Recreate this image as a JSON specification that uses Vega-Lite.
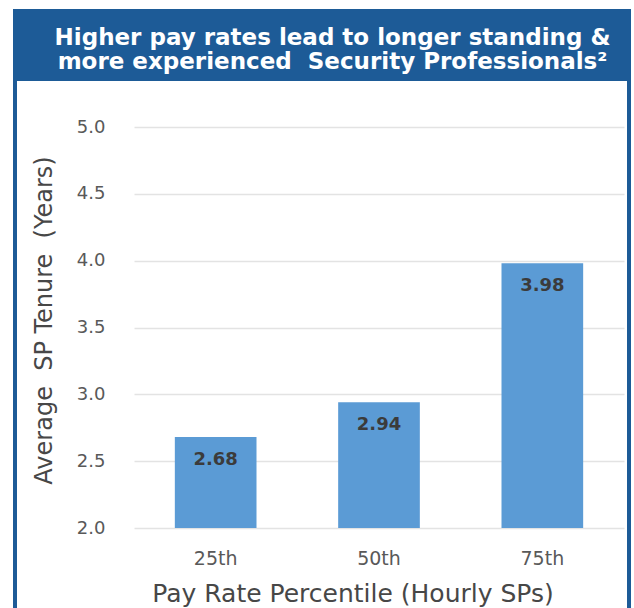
{
  "$schema": "https://vega.github.io/schema/vega-lite/v6.json",
  "background": "white",
  "padding": {"left": 13, "top": 9, "right": 0, "bottom": 0},
  "spacing": 0,
  "config": {
    "concat": {"spacing": 0},
    "font": "DejaVu Sans"
  },
  "vconcat": [
    {
      "width": 614,
      "height": 64,
      "view": {"fill": "#1d5b97", "stroke": "#1d5b97", "strokeWidth": 4},
      "data": {"values": [{"title": "Higher pay rates lead to longer standing &\nmore experienced\u00a0 Security Professionals²"}]},
      "mark": {
        "type": "text",
        "font": "DejaVu Sans",
        "fontWeight": "bold",
        "fontSize": 23,
        "color": "white",
        "lineBreak": "\n",
        "lineHeight": 24,
        "align": "center",
        "baseline": "middle",
        "dx": 10.5,
        "dy": -5.5
      },
      "encoding": {"text": {"field": "title", "type": "nominal"}}
    },
    {
      "width": 614,
      "height": 534,
      "view": {"fill": "white", "stroke": "#1d5b97", "strokeWidth": 4},
      "data": {"values": [
        {"percentile": "25th", "tenure": 2.68},
        {"percentile": "50th", "tenure": 2.94},
        {"percentile": "75th", "tenure": 3.98}
      ]},
      "encoding": {
        "x": {
          "field": "percentile",
          "type": "nominal",
          "sort": null,
          "scale": {"range": [119, 609], "paddingInner": 0.5, "paddingOuter": 0.25},
          "axis": {
            "orient": "bottom",
            "offset": -85,
            "labelAngle": 0,
            "domain": false,
            "ticks": false,
            "tickSize": 0,
            "grid": false,
            "labelPadding": 21,
            "labelFont": "DejaVu Sans",
            "labelFontSize": 19,
            "labelColor": "#595959",
            "title": "Pay Rate Percentile (Hourly SPs)",
            "titleFont": "DejaVu Sans",
            "titleFontSize": 25,
            "titleFontWeight": "normal",
            "titleColor": "#474747",
            "titleX": 337.5,
            "titleY": 53,
            "titleBaseline": "top",
            "titleAlign": "center"
          }
        },
        "y": {
          "field": "tenure",
          "type": "quantitative",
          "scale": {"domain": [2, 5], "range": [449, 48], "zero": false, "nice": false},
          "axis": {
            "offset": -119,
            "values": [2, 2.5, 3, 3.5, 4, 4.5, 5],
            "format": ".1f",
            "domain": false,
            "ticks": false,
            "tickSize": 0,
            "labelPadding": 29,
            "labelFont": "DejaVu Sans",
            "labelFontSize": 18,
            "labelColor": "#595959",
            "grid": true,
            "gridColor": "#e3e3e3",
            "gridWidth": 1.5,
            "title": "Average\u00a0 SP Tenure\u00a0 (Years)",
            "titleFont": "DejaVu Sans",
            "titleFontSize": 24,
            "titleFontWeight": "normal",
            "titleColor": "#474747",
            "titleAngle": -90,
            "titleX": -90,
            "titleY": 241,
            "titleBaseline": "middle",
            "titleAlign": "center"
          }
        }
      },
      "layer": [
        {
          "mark": {"type": "bar", "color": "#5b9bd5"},
          "encoding": {"y2": {"datum": 2}}
        },
        {
          "mark": {
            "type": "text",
            "font": "DejaVu Sans",
            "fontWeight": "bold",
            "fontSize": 18,
            "color": "#3b3b3b",
            "baseline": "middle",
            "dy": 23
          },
          "encoding": {"text": {"field": "tenure", "type": "quantitative", "format": ".2f"}}
        }
      ]
    }
  ]
}
